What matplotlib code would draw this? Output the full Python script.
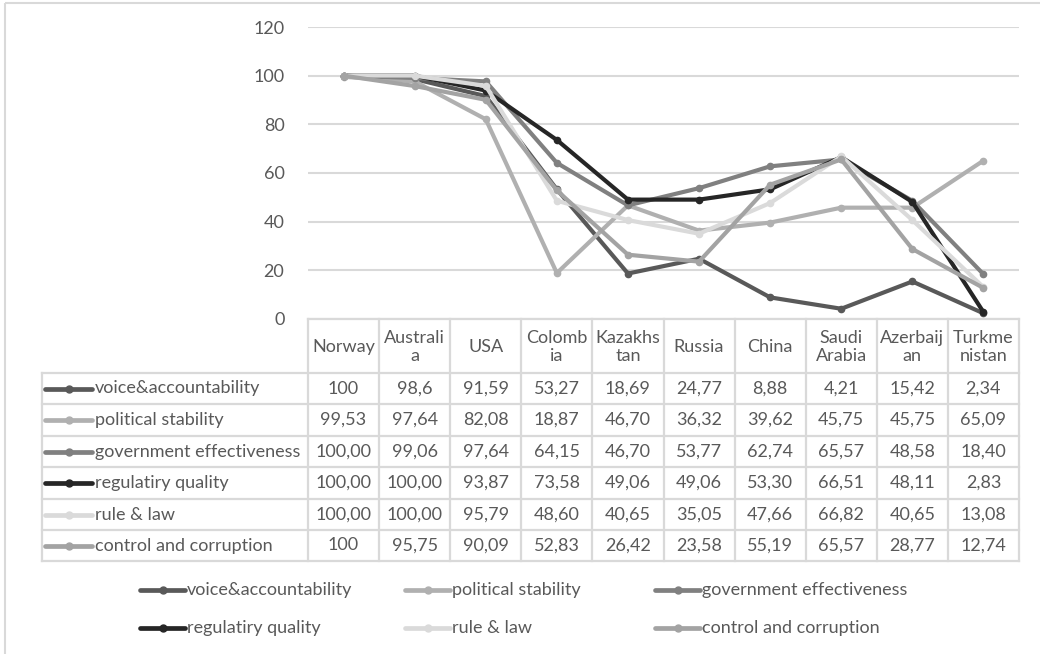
import matplotlib
matplotlib.use("Agg")
import matplotlib.pyplot as plt
from matplotlib.lines import Line2D
from matplotlib.patches import Rectangle

plt.rcParams['font.family'] = ['Lato', 'DejaVu Sans']

# ---- data -------------------------------------------------------------
countries = ["Norway", "Australia", "USA", "Colombia", "Kazakhstan",
             "Russia", "China", "Saudi Arabia", "Azerbaijan", "Turkmenistan"]
header_labels = ["Norway", "Australi\na", "USA", "Colomb\nia", "Kazakhs\ntan",
                 "Russia", "China", "Saudi\nArabia", "Azerbaij\nan", "Turkme\nnistan"]

series_names = ["voice&accountability", "political stability",
                "government effectiveness", "regulatiry quality",
                "rule & law", "control and corruption"]

voice_accountability = ["100", "98,6", "91,59", "53,27", "18,69", "24,77", "8,88", "4,21", "15,42", "2,34"]
political_stability = ["99,53", "97,64", "82,08", "18,87", "46,70", "36,32", "39,62", "45,75", "45,75", "65,09"]
government_effectiveness = ["100,00", "99,06", "97,64", "64,15", "46,70", "53,77", "62,74", "65,57", "48,58", "18,40"]
regulatory_quality = ["100,00", "100,00", "93,87", "73,58", "49,06", "49,06", "53,30", "66,51", "48,11", "2,83"]
rule_of_law = ["100,00", "100,00", "95,79", "48,60", "40,65", "35,05", "47,66", "66,82", "40,65", "13,08"]
control_corruption = ["100", "95,75", "90,09", "52,83", "26,42", "23,58", "55,19", "65,57", "28,77", "12,74"]

table_text = [voice_accountability, political_stability, government_effectiveness,
              regulatory_quality, rule_of_law, control_corruption]
series_values = [[float(s.replace(",", ".")) for s in row] for row in table_text]

colors = ["#595959", "#b0b0b0", "#808080", "#262626", "#dadada", "#a3a3a3"]
y_ticks = [0, 20, 40, 60, 80, 100, 120]

# ---- layout (pixels) --------------------------------------------------
W, H = 1040, 654
plot_l, plot_r = 308, 1019
plot_t, plot_b = 27, 319
col_w = (plot_r - plot_l) / len(countries)
label_l = 42
row_lines = [319, 373, 404, 436, 467, 499, 530, 561]
text_color = "#595959"
grid_color = "#d9d9d9"
fs = 13
lw = 3.0

fig = plt.figure(figsize=(W / 100, H / 100), dpi=100)

# line chart
ax = fig.add_axes([plot_l / W, 1 - plot_b / H, (plot_r - plot_l) / W, (plot_b - plot_t) / H])
x = list(range(len(countries)))
for vals, c in zip(series_values, colors):
    ax.plot(x, vals, color=c, lw=lw, marker="o", ms=4.5, mec=c, mfc=c,
            solid_joinstyle="round", solid_capstyle="round", zorder=3)
ax.set_xlim(-0.5, len(countries) - 0.5)
ax.set_ylim(0, 120)
ax.set_yticks(y_ticks)
ax.set_yticklabels([str(t) for t in y_ticks])
ax.set_xticks([])
ax.tick_params(axis="y", length=0, pad=17, labelsize=fs, labelcolor=text_color)
ax.grid(axis="y", color=grid_color, lw=1.5)
ax.set_axisbelow(True)
for s in ax.spines.values():
    s.set_visible(False)
ax.patch.set_alpha(0)

# overlay in pixel coordinates for border, data table and legend
ov = fig.add_axes([0, 0, 1, 1], zorder=-1)
ov.set_xlim(0, W)
ov.set_ylim(H, 0)
ov.axis("off")

ov.add_patch(Rectangle((5, 3), W + 20, H + 20, fill=False, ec=grid_color, lw=1.5))

# table grid
tkw = dict(color=grid_color, lw=1.6)
ov.plot([plot_l, plot_r], [row_lines[0]] * 2, **tkw)
for yl in row_lines[1:]:
    ov.plot([label_l, plot_r], [yl, yl], **tkw)
ov.plot([label_l, label_l], [row_lines[1], row_lines[-1]], **tkw)
for k in range(len(countries) + 1):
    xv = plot_l + k * col_w
    ov.plot([xv, xv], [row_lines[0], row_lines[-1]], **tkw)

# header row
for i, lab in enumerate(header_labels):
    cx = plot_l + (i + 0.5) * col_w
    ov.text(cx, (row_lines[0] + row_lines[1]) / 2 + 1, lab, ha="center", va="center",
            fontsize=fs, color=text_color, linespacing=1.15)

# series rows
for r, (name, cells, c) in enumerate(zip(series_names, table_text, colors)):
    cy = (row_lines[r + 1] + row_lines[r + 2]) / 2
    ov.add_line(Line2D([45, 92], [cy, cy], color=c, lw=lw + 0.4, solid_capstyle="round"))
    ov.add_line(Line2D([68.5], [cy], color=c, marker="o", ms=5, mec=c, mfc=c))
    ov.text(95, cy, name, ha="left", va="center", fontsize=fs, color=text_color)
    for i, s in enumerate(cells):
        cx = plot_l + (i + 0.5) * col_w
        ov.text(cx, cy, s, ha="center", va="center", fontsize=fs, color=text_color)

# legend
leg_x = [140, 405, 655]
leg_y = [590, 628]
for k, (name, c) in enumerate(zip(series_names, colors)):
    lx = leg_x[k % 3]
    ly = leg_y[k // 3]
    ov.add_line(Line2D([lx, lx + 45], [ly, ly], color=c, lw=lw + 0.4, solid_capstyle="round"))
    ov.add_line(Line2D([lx + 22.5], [ly], color=c, marker="o", ms=5, mec=c, mfc=c))
    ov.text(lx + 47, ly, name, ha="left", va="center", fontsize=fs, color=text_color)

fig.savefig("out.png", dpi=100)
